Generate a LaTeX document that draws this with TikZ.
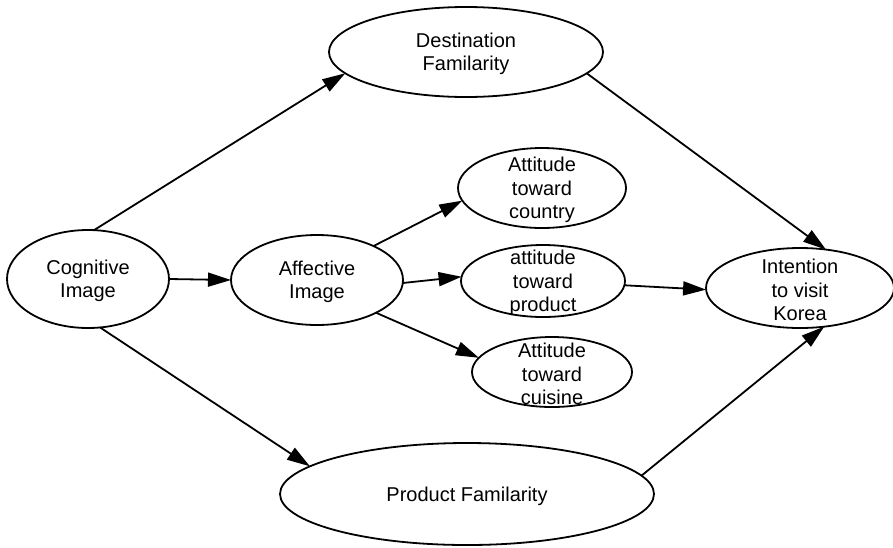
\documentclass[tikz,border=0pt]{standalone}
\usepackage{fontspec}
\setmainfont{Liberation Sans}
\usetikzlibrary{shapes.geometric,arrows.meta}
\begin{document}
\begin{tikzpicture}[x=1pt,y=-1pt,
  ell/.style={ellipse,draw=black,line width=1.8pt,inner sep=0pt,outer sep=0pt},
  txt/.style={align=center,inner sep=0pt,yshift=-2pt,font=\fontsize{20}{23.5}\selectfont},
  arr/.style={line width=1.8pt,-{Triangle[length=23pt,width=14pt]}}]
\useasboundingbox (0,0) rectangle (893,547);
\node[ell,minimum width=274pt,minimum height=90pt] (dest) at (466,52) {};
\node[txt] (destT) at (dest) {Destination\\Familarity};
\node[ell,minimum width=162pt,minimum height=98pt] (cog) at (88,279) {};
\node[txt] (cogT) at (cog) {Cognitive\\Image};
\node[ell,minimum width=172pt,minimum height=90pt] (aff) at (317,280) {};
\node[txt] (affT) at (aff) {Affective\\Image};
\node[ell,minimum width=168pt,minimum height=80pt] (cty) at (542,188) {};
\node[txt] (ctyT) at (cty) {Attitude\\toward\\country};
\node[ell,minimum width=164pt,minimum height=72pt] (prd) at (543,281) {};
\node[txt] (prdT) at (prd) {attitude\\toward\\product};
\node[ell,minimum width=160pt,minimum height=70pt] (cui) at (552,372) {};
\node[txt] (cuiT) at (cui) {Attitude\\toward\\cuisine};
\node[ell,minimum width=188pt,minimum height=80pt] (int) at (800,288) {};
\node[txt] (intT) at (int) {Intention\\to visit\\Korea};
\node[ell,minimum width=374pt,minimum height=102pt] (pf) at (467,494) {};
\node[txt] (pfT) at (pf) {Product Familarity};

\draw[arr] (cog.83) -- (dest.190);
\draw[arr] (cog.east) -- (aff.west);
\draw[arr] (cog.-76) -- (pf.170);
\draw[arr] (aff.31) -- (cty.189);
\draw[arr] (aff.-2) -- (prd.177);
\draw[arr] (aff.-29) -- (cui.169);
\draw[arr] (prd.-3) -- (int.181);
\draw[arr] (dest.-10) -- (int.56);
\draw[arr] (pf.6) -- (int.-58);
\end{tikzpicture}
\end{document}
